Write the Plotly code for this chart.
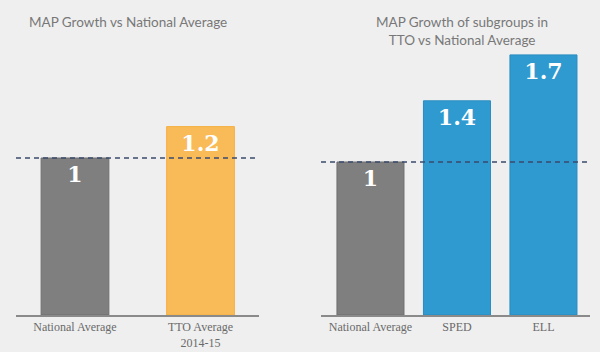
import plotly.graph_objects as go

left_categories = ["National Average", "TTO Average 2014-15"]
left_ticktext = ["National Average", "TTO Average<br>2014-15"]
left_values = [1, 1.2]

right_categories = ["National Average", "SPED", "ELL"]
right_values = [1, 1.4, 1.7]

national_average = 1

left_title = "MAP Growth vs National Average"
right_title = "MAP Growth of subgroups in<br>TTO vs National Average"

BG = "#efefef"
GRAY = "#7f7f7f"
ORANGE = "#f9bb58"
BLUE = "#2f9ad0"

fig = go.Figure()

fig.add_trace(go.Bar(
    x=left_categories, y=left_values, xaxis="x", yaxis="y",
    marker=dict(color=[GRAY, ORANGE], line=dict(color=["#6f6f6f", "#f5b043"], width=1)),
    width=0.54,
    texttemplate="%{y}", textposition="inside", insidetextanchor="end",
    textfont=dict(family="DejaVu Serif", size=22, color="white", weight="bold"),
    hoverinfo="skip", showlegend=False,
))
fig.add_trace(go.Bar(
    x=right_categories, y=right_values, xaxis="x2", yaxis="y2",
    marker=dict(color=[GRAY, BLUE, BLUE], line=dict(color=["#6f6f6f", "#2a8cc0", "#2a8cc0"], width=1)),
    width=0.775,
    texttemplate="%{y}", textposition="inside", insidetextanchor="end",
    textfont=dict(family="DejaVu Serif", size=22, color="white", weight="bold"),
    hoverinfo="skip", showlegend=False,
))

tickfont = dict(family="Liberation Serif", size=12, color="#6a6a6a")
ydom = [37 / 352, 1]

fig.update_layout(
    width=600, height=352,
    margin=dict(l=0, r=0, t=0, b=0),
    paper_bgcolor=BG, plot_bgcolor=BG,
    xaxis=dict(domain=[16 / 600, 259 / 600], range=[-0.47, 1.466], type="category",
               tickvals=left_categories, ticktext=left_ticktext, tickfont=tickfont,
               showline=True, linecolor="#8a8a8a", linewidth=1.5, showgrid=False,
               ticks="", fixedrange=True),
    yaxis=dict(domain=ydom, range=[0, 315 / 157], visible=False, showgrid=False),
    xaxis2=dict(domain=[321 / 600, 590 / 600], range=[-0.572, 2.538], type="category",
                tickfont=tickfont, showline=True, linecolor="#8a8a8a", linewidth=1.5,
                showgrid=False, ticks=""),
    yaxis2=dict(domain=ydom, range=[0, 315 / 153], visible=False, showgrid=False, anchor="x2"),
    shapes=[
        dict(type="line", xref="x domain", yref="y", x0=0, x1=1,
             y0=national_average, y1=national_average,
             line=dict(color="#3b4a6e", width=1.5, dash="5px,4px")),
        dict(type="line", xref="x2 domain", yref="y2", x0=0, x1=1,
             y0=national_average, y1=national_average,
             line=dict(color="#3b4a6e", width=1.5, dash="5px,4px")),
    ],
    annotations=[
        dict(text=left_title, xref="paper", yref="paper", x=27 / 600, y=1 - 22 / 352,
             xanchor="left", yanchor="middle", showarrow=False,
             font=dict(family="Lato", size=13.5, color="#787878")),
        dict(text=right_title, xref="paper", yref="paper", x=462 / 600, y=1 - 31 / 352,
             xanchor="center", yanchor="middle", showarrow=False, align="center",
             font=dict(family="Lato", size=13.5, color="#787878")),
    ],
)

fig.write_html("out.html")
